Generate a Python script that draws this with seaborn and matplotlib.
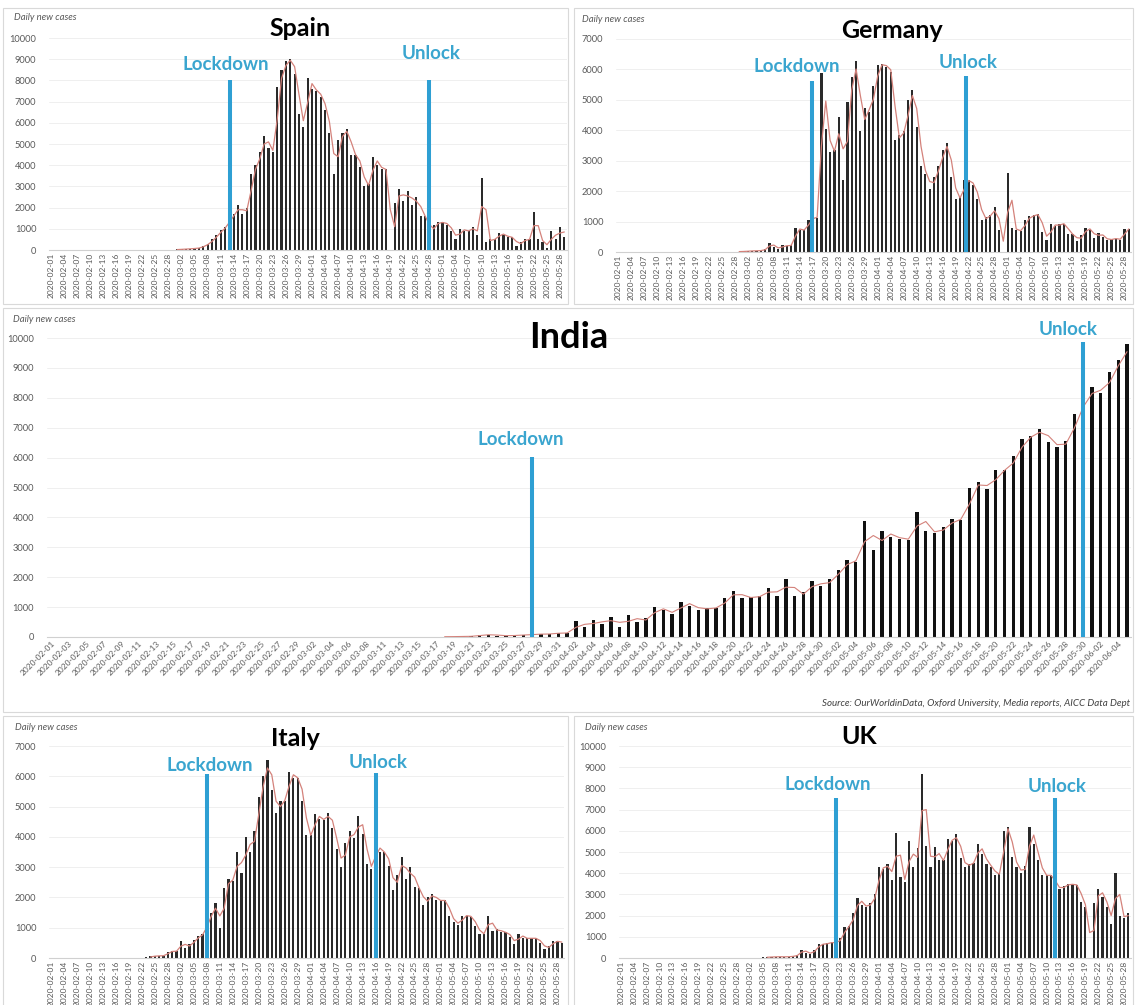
import numpy as np
import pandas as pd
import matplotlib
matplotlib.use("Agg")
import matplotlib.pyplot as plt
import seaborn as sns
from matplotlib.patches import Rectangle

nan = np.nan

# ---------------- data ----------------
dates_eu = list(pd.date_range("2020-02-01", "2020-05-29").strftime("%Y-%m-%d"))
_india_range = pd.date_range("2020-02-01", "2020-06-05").strftime("%Y-%m-%d")
dates_india = [d for d in _india_range if d not in ("2020-03-09", "2020-05-31")]

spain_cases = [nan] * 28 + [15, 25, 35, 50, 60, 80,
    100, 200, 300, 500, 700, 950, 1100, 1500, 1700, 2100,
    1700, 2000, 3600, 4000, 4600, 5400, 4800, 4600, 7700, 8500,
    8900, 9000, 8300, 6400, 5800, 8100, 7600, 7500, 7200, 6600,
    5500, 3600, 5200, 5500, 5700, 4500, 4500, 3900, 3000, 3100,
    4400, 4000, 3800, 3800, 0, 2200, 2900, 2300, 2800, 2100,
    2500, 1600, 1600, 800, 1200, 1300, 1300, 1200, 900, 500,
    1000, 900, 900, 1100, 700, 3400, 400, 500, 500, 800,
    700, 600, 600, 200, 400, 500, 500, 1800, 500, 400,
    100, 900, 500, 1100, 600]

germany_cases = [nan] * 27 + [10, 15, 20, 30, 40, 40, 50, 100,
    295, 160, 110, 220, 190, 240, 800, 710, 730, 1040, 1150, 1130,
    5875, 4050, 3280, 3340, 4430, 2350, 4920,
    5740, 6290, 3970, 4740, 4600, 5440, 6130, 6180, 6070, 5910,
    3670, 3830, 3990, 4980, 5310, 4120, 2820, 2550, 2080, 2480,
    2840, 3360, 3580, 2460, 1750, 1800, 2350, 2350, 2190, 1750,
    1040, 1150, 1225, 1480, 710, 0, 2600, 800, 710, 690,
    1040, 1170, 1200, 1260, 660, 380, 930, 840, 930, 930,
    600, 580, 360, 550, 790, 730, 470, 630, 490, 380,
    440, 440, 400, 770, 750]

india_cases = [nan] * 44 + [10, 10, 15, 20, 25, 70, 80, 50, 40, 60, 70, 90, 100, 100, 150, 120,
    524, 323, 580, 435, 658, 323, 725, 502, 635, 992,
    892, 758, 1182, 1048, 914, 970, 970, 1293, 1527, 1304,
    1338, 1360, 1639, 1382, 1951, 1360, 1505, 1862, 1695, 1940,
    2252, 2586, 2508, 3868, 2920, 3534, 3355, 3289, 3255, 4169,
    3556, 3478, 3679, 3946, 3924, 4983, 5184, 4950, 5574, 5574,
    6065, 6633, 6734, 6957, 6511, 6355, 6544, 7458, 7937, 8350,
    8160, 8863, 9275, 9810]

italy_cases = [nan] * 22 + [20, 50, 70, 70, 80, 200, 230, 220, 560, 340,
    450, 580, 740, 780, 1250, 1490, 1800, 980, 2300, 2600,
    2550, 3500, 2800, 4000, 3500, 4200, 5300, 6000, 6550, 5550,
    4800, 5200, 5200, 6150, 5950, 5950, 5200, 4050, 4050, 4750,
    4600, 4550, 4800, 4300, 3600, 3000, 3800, 4200, 3950, 4700,
    4100, 3100, 2950, 3760, 3500, 3500, 3050, 2250, 2750, 3350,
    2600, 3000, 2350, 2300, 1750, 2000, 2100, 1900, 1900, 1900,
    1400, 1200, 1100, 1400, 1400, 1350, 1050, 800, 800, 1400,
    900, 950, 850, 850, 700, 450, 800, 650, 650, 650,
    650, 500, 300, 400, 550, 550, 500]

uk_cases = [nan] * 33 + [30, 40, 50, 60, 60, 50, 70, 80, 150, 400,
    250, 200, 400, 650, 650, 700, 750, 700, 950, 1450,
    1500, 2100, 2850, 2500, 2400, 2600, 3000, 4300, 4200, 4450,
    3700, 5900, 3800, 3600, 5500, 4300, 5200, 8700, 5300, 4300,
    5250, 4600, 4600, 5600, 5500, 5850, 4700, 4300, 4450, 4500,
    5400, 4900, 4450, 4300, 3900, 4000, 6000, 6200, 4750, 4300,
    4000, 4350, 6200, 5400, 4600, 3900, 3900, 3900, 3400, 3250,
    3400, 3500, 3450, 3450, 2650, 2400, 0, 2600, 3250, 2900,
    2400, 1600, 4000, 2000, 1900, 2100]

country_names = ["Spain", "Germany", "India", "Italy", "UK"]
event_labels = ["Lockdown", "Unlock"]
source_text = "Source: OurWorldinData, Oxford University, Media reports, AICC Data Dept"
y_caption = "Daily new cases"

# ---------------- layout (pixels) ----------------
W, H = 1135, 1005
BLUE_LINE = "#2e9fd3"
BLUE_TEXT = "#3aa5cf"
RED = "#d4827b"
GRAY_TXT = "#595959"

panels = [
    dict(name="Spain", dates=dates_eu, vals=spain_cases, ymax=10000,
         box=(3, 8, 568, 304), axpx=(48.8, 566.5, 38, 250), title=(300, 28, 18),
         cap=(14, 18), step=3, rot=90, barw=0.5, barc="#2a2a2a",
         events=[(41.2, 8000, 40.1, 8770), (87.0, 8000, 87.3, 9290)]),
    dict(name="Germany", dates=dates_eu, vals=germany_cases, ymax=7000,
         box=(574, 8, 1133, 304), axpx=(615.8, 1131.0, 39, 252), title=(892, 30, 18),
         cap=(582, 19), step=3, rot=90, barw=0.5, barc="#2a2a2a",
         events=[(44.8, 5630, 41.3, 6080), (80.4, 5770, 80.8, 6240)]),
    dict(name="India", dates=dates_india, vals=india_cases, ymax=10000,
         box=(3, 308, 1133, 712), axpx=(46.6, 1131.4, 338, 637), title=(569, 337, 26),
         cap=(13, 319), step=2, rot=45, barw=0.38, barc="#111111",
         events=[(55.0, 6030, 53.7, 6590), (118.0, 9870, 116.3, 10270)]),
    dict(name="Italy", dates=dates_eu, vals=italy_cases, ymax=7000,
         box=(3, 716, 568, 1010), axpx=(48.8, 564.0, 746, 958), title=(295, 738, 18),
         cap=(15, 727), step=3, rot=90, barw=0.5, barc="#2a2a2a",
         events=[(36.1, 6075, 36.7, 6370), (75.0, 6120, 75.5, 6470)]),
    dict(name="UK", dates=dates_eu, vals=uk_cases, ymax=10000,
         box=(574, 716, 1133, 1010), axpx=(618.8, 1130.5, 746, 958), title=(859, 737, 18),
         cap=(585, 727), step=3, rot=90, barw=0.5, barc="#2a2a2a",
         events=[(49.9, 7550, 48.0, 8200), (100.9, 7550, 101.4, 8070)]),
]

sns.set_style("white")
plt.rcParams["font.family"] = ["Lato", "DejaVu Sans"]

fig = plt.figure(figsize=(W / 100, H / 100), dpi=100)
fig.patch.set_facecolor("white")


def fx(x):
    return x / W


def fy(y):
    return 1 - y / H


for p in panels:
    # panel frame
    bx0, by0, bx1, by1 = p["box"]
    fig.patches.append(Rectangle((fx(bx0), fy(by1)), fx(bx1) - fx(bx0), fy(by0) - fy(by1),
                                 transform=fig.transFigure, fill=False,
                                 edgecolor="#d9d9d9", lw=0.8, zorder=0))
    x0, x1, yt, yb = p["axpx"]
    ax = fig.add_axes([fx(x0), fy(yb), fx(x1) - fx(x0), fy(yt) - fy(yb)])
    ax.set_facecolor("none")

    dates = p["dates"]
    vals = pd.Series(p["vals"], dtype=float)
    n = len(dates)
    df = pd.DataFrame({"date": dates, "cases": vals.fillna(0).values})
    sns.barplot(data=df, x="date", y="cases", order=dates, color=p["barc"],
                width=p["barw"], errorbar=None, saturation=1, linewidth=0,
                ax=ax, zorder=2)
    ma = vals.rolling(2).mean()
    mdf = pd.DataFrame({"pos": np.arange(n), "ma": ma.values}).dropna()
    sns.lineplot(data=mdf, x="pos", y="ma", color=RED,
                 lw=0.8 if p["name"] == "India" else 0.9,
                 estimator=None, sort=False, ax=ax, zorder=3)

    # events
    for lab, (lx, ltop, tx, ty) in zip(event_labels, p["events"]):
        ax.plot([lx, lx], [0, ltop], color=BLUE_LINE, lw=2.9, solid_capstyle="butt",
                zorder=4, clip_on=False)
        ax.text(tx, ty, lab, ha="center", va="center", fontsize=13.5,
                fontweight="bold", color=BLUE_TEXT, clip_on=False, zorder=5)

    ax.set_xlim(-0.5, n - 0.5)
    ax.set_ylim(0, p["ymax"])
    ax.set_yticks(np.arange(0, p["ymax"] + 1, 1000))
    ax.set_yticklabels([f"{v:d}" for v in np.arange(0, p["ymax"] + 1, 1000)],
                       fontsize=6.7, color=GRAY_TXT)
    ticks = list(range(0, n, p["step"]))
    ax.set_xticks(ticks)
    if p["rot"] == 90:
        ax.set_xticklabels([dates[i] for i in ticks], rotation=90, fontsize=6,
                           color=GRAY_TXT, ha="center", va="top")
    else:
        ax.set_xticklabels([dates[i] for i in ticks], rotation=45, fontsize=6,
                           color=GRAY_TXT, ha="right", va="top", rotation_mode="anchor")
    ax.tick_params(axis="both", length=0)
    ax.tick_params(axis="y", pad=9)
    ax.tick_params(axis="x", pad=2)
    ax.set_xlabel("")
    ax.set_ylabel("")
    ax.yaxis.grid(True, color="#ececec", lw=0.6)
    ax.set_axisbelow(True)
    for s in ["top", "right", "left"]:
        ax.spines[s].set_visible(False)
    ax.spines["bottom"].set_color("#d0d0d0")
    ax.spines["bottom"].set_linewidth(0.8)

    tx_, ty_, tfs = p["title"]
    fig.text(fx(tx_), fy(ty_), p["name"], ha="center", va="center", fontsize=tfs,
             fontweight="bold", color="black")
    cx, cy = p["cap"]
    fig.text(fx(cx), fy(cy), y_caption, ha="left", va="center", fontsize=6.8,
             style="italic", color=GRAY_TXT)

fig.text(fx(1130), fy(703), source_text, ha="right", va="center", fontsize=7,
         style="italic", color="#404040")

fig.savefig("out.png", dpi=100, facecolor="white")
